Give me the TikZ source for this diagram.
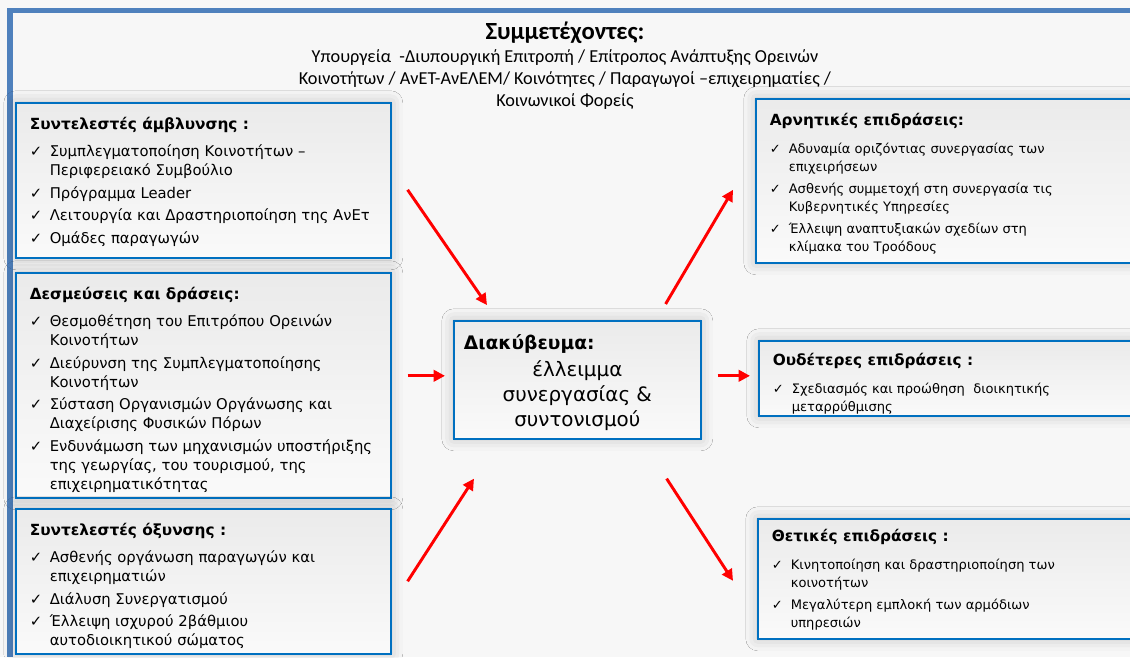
\documentclass[tikz,border=0pt]{standalone}
\usepackage{fontspec}
\setmainfont{DejaVu Sans}
\newfontfamily\calfont{Carlito}
\usetikzlibrary{arrows.meta,positioning,shadows.blur}
\definecolor{boxblue}{HTML}{0070C0}
\definecolor{bandblue}{HTML}{4F81BD}
\definecolor{arrred}{HTML}{FF0000}
% heading and checked item inside a panel
\newcommand{\hd}[1]{{\bfseries\fontsize{11.5}{14}\selectfont #1\par}\vspace{6pt}}
\newcommand{\sidehd}[1]{{\bfseries\fontsize{11.5}{14}\selectfont #1\par}\vspace{7.5pt}}
\newcommand{\itm}[1]{\par\hangindent=15pt\hangafter=1\noindent\makebox[15pt][l]{✓}#1\par\vspace{2.6pt}}
\newcommand{\ritm}[1]{\par\hangindent=14.25pt\hangafter=1\noindent\makebox[14.25pt][l]{✓}#1\par\vspace{3pt}}
\newcommand{\pbox}[3]{\parbox[t][#2][t]{#1}{\vspace*{11pt}#3}}
\begin{document}
\begin{tikzpicture}[x=0.75pt,y=-0.75pt,
    panel/.style={draw=boxblue, line width=1.2pt, top color=black!8, bottom color=black!2,
        inner xsep=10.5pt, inner ysep=0pt, anchor=north west,
        font=\fontsize{11.1}{14.25}\selectfont,
        blur shadow={shadow xshift=0pt, shadow yshift=0pt, shadow blur radius=9pt, shadow opacity=22}},
    rpanel/.style={panel, font=\fontsize{9.8}{13.5}\selectfont},
    arr/.style={draw=arrred, line width=2.2pt, -{Triangle[length=8.5pt,width=8.5pt]}}]
    % Background and frame
    \fill[black!3] (0,0) rectangle (1130,657);
    \useasboundingbox (0,0) rectangle (1130,657);
    \fill[bandblue] (7,8) rectangle (1130,13);
    \fill[bandblue] (7,8) rectangle (13,657);

    % Participants
    \node[font=\calfont\fontsize{13.7}{16.5}\selectfont, align=center, anchor=north] (part) at (565,17)
        {{\bfseries\fontsize{18.5}{18}\selectfont Συμμετέχοντες:}\\[1pt]
         Υπουργεία \ -Διυπουργική Επιτροπή / Επίτροπος Ανάπτυξης Ορεινών\\
         Κοινοτήτων / ΑνΕΤ-ΑνΕΛΕΜ/ Κοινότητες / Παραγωγοί –επιχειρηματίες /\\
         Κοινωνικοί Φορείς};

    % Left panels
    \node[panel] (amb) at (15,102) {\pbox{260.25pt}{116.25pt}{%
        \hd{Συντελεστές άμβλυνσης :}
        \itm{Συμπλεγματοποίηση Κοινοτήτων –\newline Περιφερειακό Συμβούλιο}
        \itm{Πρόγραμμα Leader}
        \itm{Λειτουργία και Δραστηριοποίηση της ΑνΕτ}
        \itm{Ομάδες παραγωγών}}};
    \node[panel] (dez) at (15,272) {\pbox{260.25pt}{168.75pt}{%
        \hd{Δεσμεύσεις και δράσεις:}
        \itm{Θεσμοθέτηση του Επιτρόπου Ορεινών\newline Κοινοτήτων}
        \itm{Διεύρυνση της Συμπλεγματοποίησης\newline Κοινοτήτων}
        \itm{Σύσταση Οργανισμών Οργάνωσης και\newline Διαχείρισης Φυσικών Πόρων}
        \itm{Ενδυνάμωση των μηχανισμών υποστήριξης\newline της γεωργίας, του τουρισμού, της\newline επιχειρηματικότητας}}};
    \node[panel] (oxy) at (15,508) {\pbox{260.25pt}{108.75pt}{%
        \hd{Συντελεστές όξυνσης :}
        \itm{Ασθενής οργάνωση παραγωγών και\newline επιχειρηματιών}
        \itm{Διάλυση Συνεργατισμού}
        \itm{Έλλειψη ισχυρού 2βάθμιου\newline αυτοδιοικητικού σώματος}}};

    % Central issue
    \node[panel, inner xsep=7.5pt] (diak) at (453,320) {\parbox[t][88.5pt][t]{170.25pt}{\vspace*{10pt}%
        {\bfseries\fontsize{14}{16}\selectfont Διακύβευμα:\par}\vspace{1.5pt}
        {\centering\fontsize{14.9}{18.75}\selectfont έλλειμμα\\ συνεργασίας \&\\ συντονισμού\par}}};

    % Right panels
    \node[rpanel] (arn) at (755,98) {\pbox{267.75pt}{123pt}{%
        \sidehd{Αρνητικές επιδράσεις:}
        \ritm{Αδυναμία οριζόντιας συνεργασίας των\newline επιχειρήσεων}
        \ritm{Ασθενής συμμετοχή στη συνεργασία τις\newline Κυβερνητικές Υπηρεσίες}
        \ritm{Έλλειψη αναπτυξιακών σχεδίων στη\newline κλίμακα του Τροόδους}}};
    \node[rpanel] (oud) at (758,340) {\pbox{265.5pt}{56.25pt}{\vspace{-2pt}%
        \sidehd{Ουδέτερες επιδράσεις :}
        \ritm{Σχεδιασμός και προώθηση \ διοικητικής\newline μεταρρύθμισης}}};
    \node[rpanel] (the) at (757,518) {\pbox{266.25pt}{90pt}{\vspace{-3.5pt}%
        \sidehd{Θετικές επιδράσεις :}
        \ritm{Κινητοποίηση και δραστηριοποίηση των\newline κοινοτήτων}
        \ritm{Μεγαλύτερη εμπλοκή των αρμόδιων\newline υπηρεσιών}}};

    % Arrows in and out
    \draw[arr] ([shift={(16,9.5)}]amb.east) -- ([shift={(34,-15)}]diak.north west);
    \draw[arr] ([shift={(16,-9.5)}]dez.east) -- ([shift={(-8,-4)}]diak.west);
    \draw[arr] ([shift={(16,0)}]oxy.east) -- ([shift={(21,39)}]diak.south west);
    \draw[arr] ([shift={(-36,-16)}]diak.north east) -- ([shift={(-22,9)}]arn.west);
    \draw[arr] ([shift={(16,-4)}]diak.east) -- ([shift={(-8,-2.5)}]oud.west);
    \draw[arr] ([shift={(-35,39)}]diak.south east) -- ([shift={(-24,2)}]the.west);
\end{tikzpicture}
\end{document}
